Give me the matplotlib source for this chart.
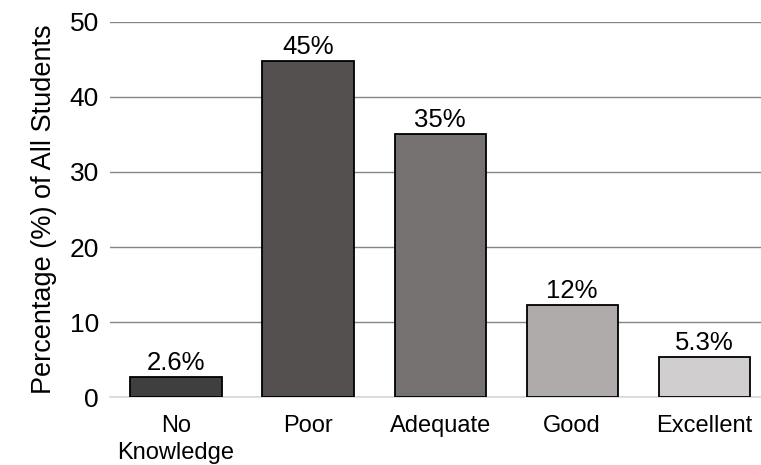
import matplotlib
matplotlib.use("Agg")
import matplotlib.pyplot as plt

# ----- Data -----
categories = ["No\nKnowledge", "Poor", "Adequate", "Good", "Excellent"]
values = [2.7, 44.8, 35.1, 12.3, 5.4]
value_labels = ["2.6%", "45%", "35%", "12%", "5.3%"]
bar_colors = ["#3f3f3f", "#555050", "#757170", "#afabab", "#d0cece"]
y_ticks = [0, 10, 20, 30, 40, 50]

plt.rcParams["font.family"] = ["Liberation Sans", "DejaVu Sans"]

fig = plt.figure(figsize=(7.61, 4.65), dpi=100)
ax = fig.add_axes([0.1445, 0.146, 0.8555, 0.807])

x = list(range(len(categories)))
bars = ax.bar(x, values, width=0.69, color=bar_colors, edgecolor="black",
              linewidth=1.3, zorder=3)

for b, lab in zip(bars, value_labels):
    ax.text(b.get_x() + b.get_width() / 2, b.get_height() + 0.2, lab,
            ha="center", va="bottom", fontsize=18.5, color="black", zorder=4)

ax.set_xlim(-0.5, 4.43)
ax.set_ylim(0, 50)
ax.set_yticks(y_ticks)
ax.set_xticks(x)
ax.set_xticklabels(categories, fontsize=17, linespacing=1.3)
ax.tick_params(axis="y", labelsize=19, length=0, pad=8)
ax.tick_params(axis="x", length=0, pad=13)
ax.yaxis.grid(True, color="#858585", linewidth=1, zorder=0)
ax.set_axisbelow(True)

for s in ["top", "right", "left"]:
    ax.spines[s].set_visible(False)
ax.spines["bottom"].set_color("#d9d9d9")
ax.spines["bottom"].set_linewidth(1.2)

ax.set_ylabel("Percentage (%) of All Students", fontsize=19.5, labelpad=9)

fig.savefig("out.png", dpi=100)
